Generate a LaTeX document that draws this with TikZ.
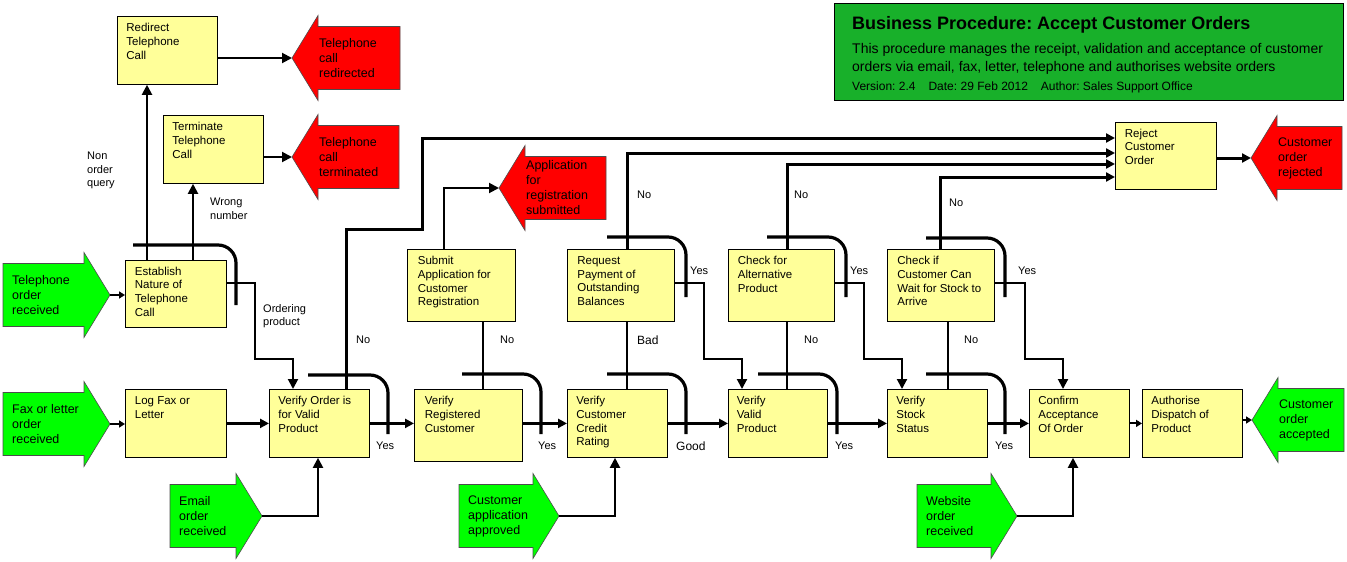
\documentclass[tikz,border=0pt]{standalone}
\usepackage{fontspec}
\setmainfont{Liberation Sans}
\frenchspacing
\usetikzlibrary{arrows.meta}
\definecolor{taskyellow}{RGB}{255,255,153}
\definecolor{startgreen}{RGB}{0,255,0}
\definecolor{endred}{RGB}{255,0,0}
\definecolor{headgreen}{RGB}{24,176,42}
\tikzstyle{task} = [rectangle, draw=black, line width=0.8pt, fill=taskyellow, anchor=north west, minimum width=100pt, minimum height=68pt, inner sep=0pt, font=\fontsize{11.5}{13.7}\selectfont]
\tikzstyle{bigtask} = [task, minimum width=107pt, minimum height=72pt]
\tikzstyle{titlebox} = [rectangle, draw=black, line width=1pt, fill=headgreen, anchor=north west, minimum width=509pt, minimum height=97pt]
\tikzstyle{event} = [draw=black!70, line width=0.6pt]
\tikzstyle{eventtext} = [anchor=west, align=left, inner sep=0pt, font=\fontsize{12.5}{15}\selectfont]
\tikzstyle{note} = [align=left, inner sep=0pt, font=\fontsize{11}{13.5}\selectfont]
\tikzstyle{line} = [line width=2pt]
\tikzstyle{arrow} = [line width=2pt, -{Triangle[length=10pt,width=10pt]}]
\tikzstyle{flow} = [line width=3pt, -{Triangle[length=9pt,width=9pt]}]
\tikzstyle{short} = [line width=2pt, -{Triangle[length=6pt,width=7pt]}]
\tikzstyle{hop} = [line width=3.2pt, rounded corners=18pt]
\newcommand{\tasktext}[1]{\parbox[t][54pt][t]{82pt}{\raggedright #1}}
\newcommand{\bigtasktext}[1]{\parbox[t][58pt][t]{87pt}{\raggedright #1}}
% event arrow pointing right: name, colour, left x, tip x, mid y, text
\newcommand{\eventright}[6]{%
  \draw[event, fill=#2] (#3,#5-31.5) -- (#4-26,#5-31.5) -- (#4-26,#5-42.5) -- (#4,#5)
    -- (#4-26,#5+42.5) -- (#4-26,#5+31.5) -- (#3,#5+31.5) -- cycle;
  \coordinate (#1-tip) at (#4,#5);
  \node (#1) [eventtext] at (#3+9,#5) {#6};}
% event arrow pointing left: name, colour, tip x, right x, mid y, text
\newcommand{\eventleft}[6]{%
  \draw[event, fill=#2] (#4,#5-31.5) -- (#3+26,#5-31.5) -- (#3+26,#5-42.5) -- (#3,#5)
    -- (#3+26,#5+42.5) -- (#3+26,#5+31.5) -- (#4,#5+31.5) -- cycle;
  \coordinate (#1-tip) at (#3,#5);
  \node (#1) [eventtext] at (#3+27,#5) {#6};}

\begin{document}
\begin{tikzpicture}[x=1pt, y=-1pt]
\useasboundingbox (0,0) rectangle (1347,562);

% heading
\node (title) [titlebox] at (834,3) {};
\node (titlehead) [anchor=base west, inner sep=0pt, font=\fontsize{18}{20}\selectfont\bfseries] at (852,29) {Business Procedure: Accept Customer Orders};
\node (titledesca) [anchor=base west, inner sep=0pt, font=\fontsize{14}{17}\selectfont] at (852,53) {This procedure manages the receipt, validation and acceptance of customer};
\node (titledescb) [anchor=base west, inner sep=0pt, font=\fontsize{14}{17}\selectfont] at (852,71) {orders via email, fax, letter, telephone and authorises website orders};
\node (titleinfo) [anchor=base west, inner sep=0pt, font=\fontsize{12}{14}\selectfont] at (852,90) {Version: 2.4\hspace{13pt}Date: 29 Feb 2012\hspace{13pt}Author: Sales Support Office};

% events
\eventright{telrec}{startgreen}{3}{110}{295}{Telephone\\order\\received}
\eventright{faxrec}{startgreen}{3}{110}{424}{Fax or letter\\order\\received}
\eventright{emailrec}{startgreen}{170}{262}{516}{Email\\order\\received}
\eventright{custapp}{startgreen}{459}{559}{516}{Customer\\application\\approved}
\eventright{webrec}{startgreen}{917}{1017}{516}{Website\\order\\received}
\eventleft{redirected}{endred}{292}{400}{58}{Telephone\\call\\redirected}
\eventleft{terminated}{endred}{292}{399}{157}{Telephone\\call\\terminated}
\eventleft{appsub}{endred}{499}{606}{188}{Application\\for\\registration\\submitted}
\eventleft{rejected}{endred}{1251}{1342}{158}{Customer\\order\\rejected}
\eventleft{accepted}{startgreen}{1252}{1344}{420}{Customer\\order\\accepted}

% tasks
\node (redirect) [task] at (117,16) {\tasktext{Redirect\\Telephone\\Call}};
\node (terminate) [task] at (163,115) {\tasktext{Terminate\\Telephone\\Call}};
\node (establish) [task, minimum width=101pt, minimum height=67pt] at (125,260) {\tasktext{Establish\\Nature of\\Telephone\\Call}};
\node (logfax) [task, minimum width=101pt] at (125,389) {\tasktext{Log Fax or\\Letter}};
\node (verorder) [task] at (269,389) {\tasktext{Verify Order is\\for Valid\\Product}};
\node (verreg) [bigtask, minimum width=108pt] at (414,389) {\bigtasktext{Verify\\Registered\\Customer}};
\node (vercredit) [task] at (567,389) {\tasktext{Verify\\Customer\\Credit\\Rating}};
\node (vervalid) [task, minimum width=99pt] at (728,389) {\tasktext{Verify\\Valid\\Product}};
\node (verstock) [task] at (887,389) {\tasktext{Verify\\Stock\\Status}};
\node (confirm) [task] at (1029,389) {\tasktext{Confirm\\Acceptance\\Of Order}};
\node (authorise) [task] at (1142,389) {\tasktext{Authorise\\Dispatch of\\Product}};
\node (submit) [bigtask, minimum width=108pt] at (407,249) {\bigtasktext{Submit\\Application for\\Customer\\Registration}};
\node (reqpay) [bigtask] at (567,249) {\bigtasktext{Request\\Payment of\\Outstanding\\Balances}};
\node (checkalt) [bigtask, minimum width=106pt] at (728,249) {\bigtasktext{Check for\\Alternative\\Product}};
\node (checkwait) [bigtask] at (887,249) {\bigtasktext{Check if\\Customer Can\\Wait for Stock to\\Arrive}};
\node (reject) [task, minimum width=101pt, minimum height=67pt] at (1115,122) {\tasktext{Reject\\Customer\\Order}};

% decision marks
\draw[hop] (133,245) -| (236,305);
\draw[hop] (308,375) -| (388,434);
\draw[hop] (462,374) -| (541,434);
\draw[hop] (607,374) -| (686,434);
\draw[hop] (758,374) -| (837,434);
\draw[hop] (926,374) -| (1005,434);
\draw[hop] (607,237) -| (686,297);
\draw[hop] (767,237) -| (846,297);
\draw[hop] (926,238) -| (1005,297);

% telephone branch
\draw[short] (telrec-tip) -- (telrec-tip -| establish.west);
\draw[arrow] ([xshift=22pt]establish.north west) -- ([xshift=30pt]redirect.south west);
\draw[arrow] ([xshift=68pt]establish.north west) -- ([xshift=30pt]terminate.south west);
\draw[arrow] (redirected-tip -| redirect.east) -- (redirected-tip);
\draw[arrow] (terminated-tip -| terminate.east) -- (terminated-tip);
\draw[arrow] ([yshift=10.5pt]establish.east) -- ++(28,0) -- ++(0,76) -| ([xshift=24pt]verorder.north west);

% main row
\draw[short] (faxrec-tip) -- (faxrec-tip -| logfax.west);
\draw[flow] (logfax.east) -- (logfax.east -| verorder.west);
\draw[arrow] (emailrec-tip) -| ([xshift=49pt]verorder.south west);
\draw[flow] (verorder.east) -- (verorder.east -| verreg.west);
\draw[flow] (vercredit.west -| verreg.east) -- (vercredit.west);
\draw[arrow] (custapp-tip) -| ([xshift=48pt]vercredit.south west);
\draw[flow] (vercredit.east) -- (vercredit.east -| vervalid.west);
\draw[flow] (vervalid.east) -- (vervalid.east -| verstock.west);
\draw[flow] (verstock.east) -- (verstock.east -| confirm.west);
\draw[arrow] (webrec-tip) -| ([xshift=44pt]confirm.south west);
\draw[short] (confirm.east) -- (authorise.west);
\draw[short] (accepted-tip -| authorise.east) -- (accepted-tip);

% checks above the row
\draw[line] ([xshift=76pt]submit.south west) -- ([xshift=69pt]verreg.north west);
\draw[arrow] ([xshift=37pt]submit.north west) |- (appsub-tip);
\draw[line] ([xshift=60pt]vercredit.north west) -- ([xshift=60pt]reqpay.south west);
\draw[arrow] ([yshift=-34pt]reqpay.north east) -- ++(29,0) -- ++(0,76) -| ([xshift=14pt]vervalid.north west);
\draw[line] ([xshift=59pt]vervalid.north west) -- ([xshift=59pt]checkalt.south west);
\draw[arrow] ([yshift=-34pt]checkalt.north east) -- ++(29,0) -- ++(0,76) -| ([xshift=15pt]verstock.north west);
\draw[line] ([xshift=61pt]verstock.north west) -- ([xshift=61pt]checkwait.south west);
\draw[arrow] ([yshift=-34pt]checkwait.north east) -- ++(30,0) -- ++(0,76) -| ([xshift=34pt]confirm.north west);

% rejections
\draw[flow] ([xshift=77pt]verorder.north west) -- ++(0,-160) -| ++(76,-91) -- ([yshift=-16pt]reject.north west);
\draw[flow] ([xshift=60pt]reqpay.north west) |- ([yshift=-31pt]reject.north west);
\draw[flow] ([xshift=59pt]checkalt.north west) |- ([yshift=-42pt]reject.north west);
\draw[flow] ([xshift=53pt]checkwait.north west) |- ([yshift=-55pt]reject.north west);
\draw[flow] (rejected-tip -| reject.east) -- (rejected-tip);

% labels
\node (nonorder) [note, anchor=north west] at (87,152) {Non\\order\\query};
\node (wrongnum) [note, anchor=north west] at (210,198) {Wrong\\number};
\node (ordering) [note, anchor=north west] at (263,304) {Ordering\\product};
\node (noorder) [note, anchor=west] at (356,340) {No};
\node (yesorder) [note, anchor=west] at (376,446) {Yes};
\node (noreg) [note, anchor=west] at (500,340) {No};
\node (yesreg) [note, anchor=west] at (538,446) {Yes};
\node (nopay) [note, anchor=west] at (637,195) {No};
\node (yespay) [note, anchor=west] at (690,271) {Yes};
\node (badcredit) [note, anchor=west, font=\fontsize{12}{14}\selectfont] at (637,340) {Bad};
\node (goodcredit) [note, anchor=west, font=\fontsize{12}{14}\selectfont] at (676,446) {Good};
\node (noalt) [note, anchor=west] at (794,195) {No};
\node (yesalt) [note, anchor=west] at (850,271) {Yes};
\node (novalid) [note, anchor=west] at (804,340) {No};
\node (yesvalid) [note, anchor=west] at (835,446) {Yes};
\node (nostock) [note, anchor=west] at (964,340) {No};
\node (nowait) [note, anchor=west] at (949,203) {No};
\node (yeswait) [note, anchor=west] at (1018,271) {Yes};
\node (yesstock) [note, anchor=west] at (995,446) {Yes};
\end{tikzpicture}
\end{document}
